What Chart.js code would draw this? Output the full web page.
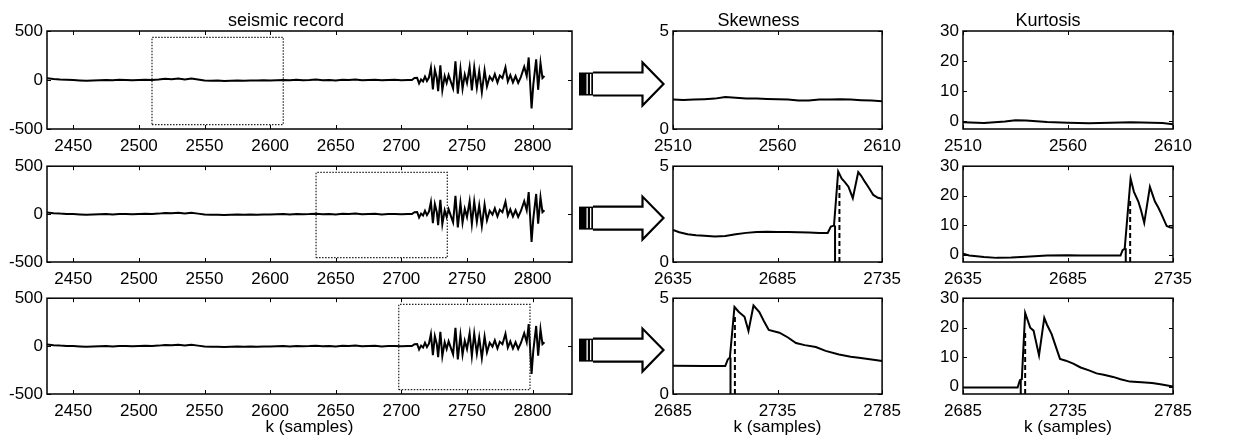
<!DOCTYPE html>
<html>
<head>
<meta charset="utf-8">
<script src="https://cdn.jsdelivr.net/npm/chart.js@4.4.0/dist/chart.umd.min.js"></script>
<style>
  body { margin: 0; background: #fff; width: 1233px; height: 442px; position: relative; overflow: hidden; }
  .p { position: absolute; }
</style>
</head>
<body>
<script>
// seismic record, quiet part (every 5 samples) and the event
const quietK = [2430, 2435, 2440, 2445, 2450, 2455, 2460, 2465, 2470, 2475,
  2480, 2485, 2490, 2495, 2500, 2505, 2510, 2515, 2520, 2525,
  2530, 2535, 2540, 2545, 2550, 2555, 2560, 2565, 2570, 2575,
  2580, 2585, 2590, 2595, 2600, 2605, 2610, 2615, 2620, 2625,
  2630, 2635, 2640, 2645, 2650, 2655, 2660, 2665, 2670, 2675,
  2680, 2685, 2690, 2695, 2700, 2705];
const quietAmp = [18, 10, 5, 2, 0, -4, -8, -5, -2, 0,
  -3, 2, 0, -2, 0, 3, 0, 5, 12, 8,
  15, 6, 14, 5, -5, -8, -6, -10, -8, -5,
  -7, -4, -6, -3, -5, -2, 0, -3, 2, -2,
  0, 4, -2, 0, -4, 3, 0, 5, -2, 0,
  3, -3, 0, 2, -2, 0];
const eventK = [2708, 2710, 2712, 2713.5, 2715, 2716.5, 2718, 2719.5, 2721, 2722.5,
  2724, 2725.5, 2727, 2728, 2729.7, 2731.2, 2733, 2734.5, 2736, 2737.5,
  2739.4, 2741.2, 2743, 2745, 2746.6, 2748.3, 2750, 2752, 2753.7, 2755.5,
  2757.5, 2759.3, 2761.3, 2763.4, 2765.2, 2767.3, 2769.4, 2771.2, 2773.2, 2775,
  2777, 2779.3, 2781.1, 2783, 2785, 2787, 2789, 2791, 2793.6, 2795.5,
  2797, 2799.2, 2800.5, 2802.7, 2804.2, 2806, 2807.5, 2809];
const eventAmp = [0, 20, 22, -35, 5, -15, 35, -10, 25, 125,
  -95, 105, 20, -115, 150, -105, 40, -30, 50, -10,
  -85, 190, -140, 115, -90, 55, -30, 135, -105, 130,
  -80, 90, -125, 100, -65, 35, -5, 60, -25, 45,
  20, 130, -15, 50, -25, 40, -30, 30, 135, 40,
  230, -290, -50, 210, -100, 175, 20, 40];

// analysis windows marked on the record
const windows = [[2510, 2610], [2635, 2735], [2698, 2798]];
const windowAmp = [-455, 435];

// skewness per window
const skewK1 = [2510, 2515, 2520, 2525, 2530, 2535, 2540, 2545, 2550, 2555, 2560, 2565, 2570, 2575, 2580, 2585, 2590, 2595, 2600, 2605, 2610];
const skew1 = [1.5, 1.48, 1.5, 1.52, 1.55, 1.63, 1.6, 1.56, 1.55, 1.53, 1.52, 1.5, 1.45, 1.45, 1.5, 1.5, 1.52, 1.5, 1.47, 1.45, 1.42];
const skewK2 = [2635, 2638, 2642, 2646, 2650, 2655, 2660, 2665, 2670, 2675, 2680, 2685, 2690, 2695, 2700, 2705, 2709, 2710.5, 2712, 2714, 2715.7, 2717, 2718.9, 2721, 2723.6, 2725, 2726.8, 2728.5, 2730.8, 2733, 2735];
const skew2 = [1.67, 1.55, 1.45, 1.4, 1.37, 1.33, 1.36, 1.45, 1.52, 1.57, 1.58, 1.56, 1.57, 1.55, 1.54, 1.52, 1.52, 1.85, 1.9, 4.73, 4.35, 4.2, 3.93, 3.33, 4.69, 4.5, 4.18, 3.9, 3.5, 3.35, 3.3];
const skewK3 = [2685, 2700, 2710, 2711.2, 2712.2, 2714.4, 2716.5, 2719.2, 2721.1, 2723.5, 2726.3, 2728.5, 2730.8, 2735.9, 2740, 2743.8, 2748, 2753.3, 2758, 2764.4, 2770, 2773.9, 2780, 2785];
const skew3 = [1.47, 1.46, 1.46, 1.8, 1.9, 4.54, 4.28, 4.03, 3.29, 4.62, 4.28, 3.8, 3.34, 3.2, 2.95, 2.66, 2.55, 2.45, 2.25, 2.06, 1.95, 1.89, 1.8, 1.72];

// kurtosis per window
const kurtK1 = [2510, 2520, 2530, 2535, 2540, 2550, 2560, 2570, 2580, 2590, 2600, 2605, 2610];
const kurt1 = [-0.3, -0.5, 0, 0.4, 0.3, -0.2, -0.4, -0.6, -0.4, -0.3, -0.4, -0.5, -0.9];
const kurtK2 = [2635, 2638, 2645, 2651, 2658, 2665, 2675, 2685, 2691, 2700, 2710, 2711, 2712, 2714.8, 2716.4, 2718.5, 2719.8, 2721.3, 2724, 2726.4, 2728, 2729.6, 2732, 2733.5, 2735];
const kurt2 = [0.3, -0.3, -0.8, -1.1, -1.0, -0.7, -0.3, -0.2, -0.3, -0.3, -0.3, 1.5, 2, 25.8, 21.3, 18, 15, 10.8, 23, 18, 16, 13.6, 9.7, 9.3, 9.1];
const kurtK3 = [2685, 2700, 2711, 2712.1, 2713, 2714.6, 2717, 2718.6, 2721.2, 2723.7, 2725, 2727.2, 2729, 2731.2, 2734, 2737.5, 2741, 2745, 2748.6, 2752, 2756.5, 2760, 2764.5, 2770, 2775, 2779, 2785];
const kurt3 = [-0.3, -0.3, -0.3, 2.2, 2.5, 25, 20, 19, 10.6, 23.3, 21, 17.8, 14, 9.4, 8.8, 7.8, 6.5, 5.5, 4.5, 4.0, 3.3, 2.5, 1.7, 1.5, 1.2, 0.8, 0];

// onset (solid) and picked arrival (dashed) markers
const onsetK = 2712.5, pickK = 2714.6;
const onsetSkew = 1.9, pickSkew = 4.1, onsetKurt = 2.2, pickKurt = 19;

// ticks
const seisTicks = [2450, 2500, 2550, 2600, 2650, 2700, 2750, 2800];
const ampTicks = [-500, 0, 500];
const skewTicks = [0, 5];
const kurtTicks = [0, 10, 20, 30];
const winTicks = [[2510, 2560, 2610], [2635, 2685, 2735], [2685, 2735, 2785]];

Chart.defaults.font.family = '"Liberation Sans", Arial, sans-serif';
Chart.defaults.font.size = 17;
Chart.defaults.color = '#000';

const zip = (ks, vs) => ks.map((k, i) => ({ x: k, y: vs[i] }));

// box round the plot with inward ticks, as in the original
const frame = {
  id: 'frame',
  afterDatasetsDraw(chart) {
    const { ctx, chartArea: a, scales: { x, y } } = chart;
    ctx.save();
    ctx.strokeStyle = '#000';
    ctx.lineWidth = 1.5;
    ctx.strokeRect(a.left, a.top, a.right - a.left, a.bottom - a.top);
    ctx.lineWidth = 1;
    ctx.beginPath();
    x.ticks.forEach(t => {
      const px = Math.round(x.getPixelForValue(t.value)) + 0.5;
      ctx.moveTo(px, a.bottom); ctx.lineTo(px, a.bottom - 4);
      ctx.moveTo(px, a.top); ctx.lineTo(px, a.top + 4);
    });
    y.ticks.forEach(t => {
      const py = Math.round(y.getPixelForValue(t.value)) + 0.5;
      ctx.moveTo(a.left, py); ctx.lineTo(a.left + 4, py);
      ctx.moveTo(a.right, py); ctx.lineTo(a.right - 4, py);
    });
    ctx.stroke();
    ctx.restore();
  }
};

// hollow arrow from record to statistics
const arrow = {
  id: 'arrow',
  afterDraw(chart) {
    const { ctx, chartArea: a } = chart;
    const cy = (a.top + a.bottom) / 2 + 4;
    const x0 = a.right + 7;
    ctx.save();
    ctx.fillStyle = '#000';
    ctx.fillRect(x0, cy - 11.5, 14, 23);
    ctx.fillStyle = '#fff';
    ctx.fillRect(x0 + 7.5, cy - 10, 1.3, 20);
    ctx.fillRect(x0 + 11, cy - 10, 1.3, 20);
    ctx.beginPath();
    ctx.moveTo(x0 + 14, cy - 11.5);
    ctx.lineTo(x0 + 63.5, cy - 11.5);
    ctx.lineTo(x0 + 63.5, cy - 21.5);
    ctx.lineTo(x0 + 84.5, cy);
    ctx.lineTo(x0 + 63.5, cy + 21.5);
    ctx.lineTo(x0 + 63.5, cy + 11.5);
    ctx.lineTo(x0 + 14, cy + 11.5);
    ctx.fillStyle = '#fff';
    ctx.fill();
    ctx.strokeStyle = '#000';
    ctx.lineWidth = 2.2;
    ctx.lineJoin = 'miter';
    ctx.stroke();
    ctx.restore();
  }
};

function axis(min, max, ticks, padding, extra) {
  return Object.assign({
    type: 'linear', min, max,
    afterBuildTicks: s => { s.ticks = ticks.map(v => ({ value: v })); },
    ticks: { color: '#000', padding, maxRotation: 0, autoSkip: false, callback: v => String(v) },
    grid: { display: false, drawTicks: false },
    border: { display: false }
  }, extra);
}

const rowTop = [0, 152, 284];
const rowPadTop = [0, 12, 12];
const rowXH = [30, 30, 48];
const plotH = 98;

function panel(opt) {
  const r = opt.row;
  const w = opt.yW + opt.plotW + opt.padRight;
  const h = rowPadTop[r] + (r === 0 ? 31 : 0) + plotH + rowXH[r];
  const div = document.createElement('div');
  div.className = 'p';
  div.style.left = opt.left + 'px';
  div.style.top = rowTop[r] + 'px';
  const canvas = document.createElement('canvas');
  canvas.width = w; canvas.height = h;
  canvas.style.width = w + 'px'; canvas.style.height = h + 'px';
  div.appendChild(canvas);
  document.body.appendChild(div);

  const xExtra = { afterFit: s => { s.height = rowXH[r]; } };
  if (r === 2) {
    xExtra.title = { display: true, text: 'k (samples)', color: '#000', font: { size: 17 }, padding: { top: 0, bottom: 4 } };
  }
  new Chart(canvas, {
    type: 'scatter',
    data: { datasets: opt.datasets },
    options: {
      responsive: false,
      animation: false,
      layout: { padding: { top: rowPadTop[r], right: opt.padRight, left: 0, bottom: 0 } },
      elements: { point: { radius: 0 }, line: { tension: 0 } },
      plugins: {
        legend: { display: false },
        tooltip: { enabled: false },
        title: {
          display: r === 0, text: opt.title, color: '#000',
          font: { size: 18, weight: 'normal', lineHeight: '20px' },
          padding: { top: 11, bottom: 0 }
        }
      },
      scales: {
        x: axis(opt.xMin, opt.xMax, opt.xTicks, 7, xExtra),
        y: axis(opt.yMin, opt.yMax, opt.yTicks, 4, { afterFit: s => { s.width = opt.yW; } })
      }
    },
    plugins: opt.arrow ? [frame, arrow] : [frame]
  });
}

const line = (data, extra) => Object.assign({ data, showLine: true, borderColor: '#000', borderWidth: 2, pointRadius: 0 }, extra);

const seisData = zip(quietK.concat(eventK), quietAmp.concat(eventAmp));
const skewSets = [[skewK1, skew1], [skewK2, skew2], [skewK3, skew3]];
const kurtSets = [[kurtK1, kurt1], [kurtK2, kurt2], [kurtK3, kurt3]];
const kurtMin = -2.5;

for (let r = 0; r < 3; r++) {
  const [w0, w1] = windows[r];
  const [a0, a1] = windowAmp;
  panel({
    row: r, left: 0, yW: 47, plotW: 525, padRight: 100, arrow: true,
    title: 'seismic record',
    xMin: 2430, xMax: 2830, xTicks: seisTicks,
    yMin: -500, yMax: 500, yTicks: ampTicks,
    datasets: [
      line([{ x: w0, y: a0 }, { x: w1, y: a0 }, { x: w1, y: a1 }, { x: w0, y: a1 }, { x: w0, y: a0 }],
        { borderWidth: 1.2, borderDash: [1.5, 1.5], borderColor: '#222' }),
      line(seisData, { borderWidth: 2 })
    ]
  });

  const wt = winTicks[r];
  const skewDs = [line(zip(skewSets[r][0], skewSets[r][1]))];
  const kurtDs = [line(zip(kurtSets[r][0], kurtSets[r][1]))];
  if (r > 0) {
    skewDs.push(line([{ x: onsetK, y: 0 }, { x: onsetK, y: onsetSkew }]));
    skewDs.push(line([{ x: pickK, y: 0 }, { x: pickK, y: pickSkew }], { borderDash: [5, 3] }));
    kurtDs.push(line([{ x: onsetK, y: kurtMin }, { x: onsetK, y: onsetKurt }]));
    kurtDs.push(line([{ x: pickK, y: kurtMin }, { x: pickK, y: pickKurt }], { borderDash: [5, 3] }));
  }
  panel({
    row: r, left: 633, yW: 40, plotW: 211, padRight: 24,
    title: 'Skewness',
    xMin: wt[0], xMax: wt[2], xTicks: wt,
    yMin: 0, yMax: 5, yTicks: skewTicks,
    datasets: skewDs
  });
  panel({
    row: r, left: 923, yW: 40, plotW: 210, padRight: 30,
    title: 'Kurtosis',
    xMin: wt[0], xMax: wt[2], xTicks: wt,
    yMin: kurtMin, yMax: 30, yTicks: kurtTicks,
    datasets: kurtDs
  });
}
</script>
</body>
</html>
